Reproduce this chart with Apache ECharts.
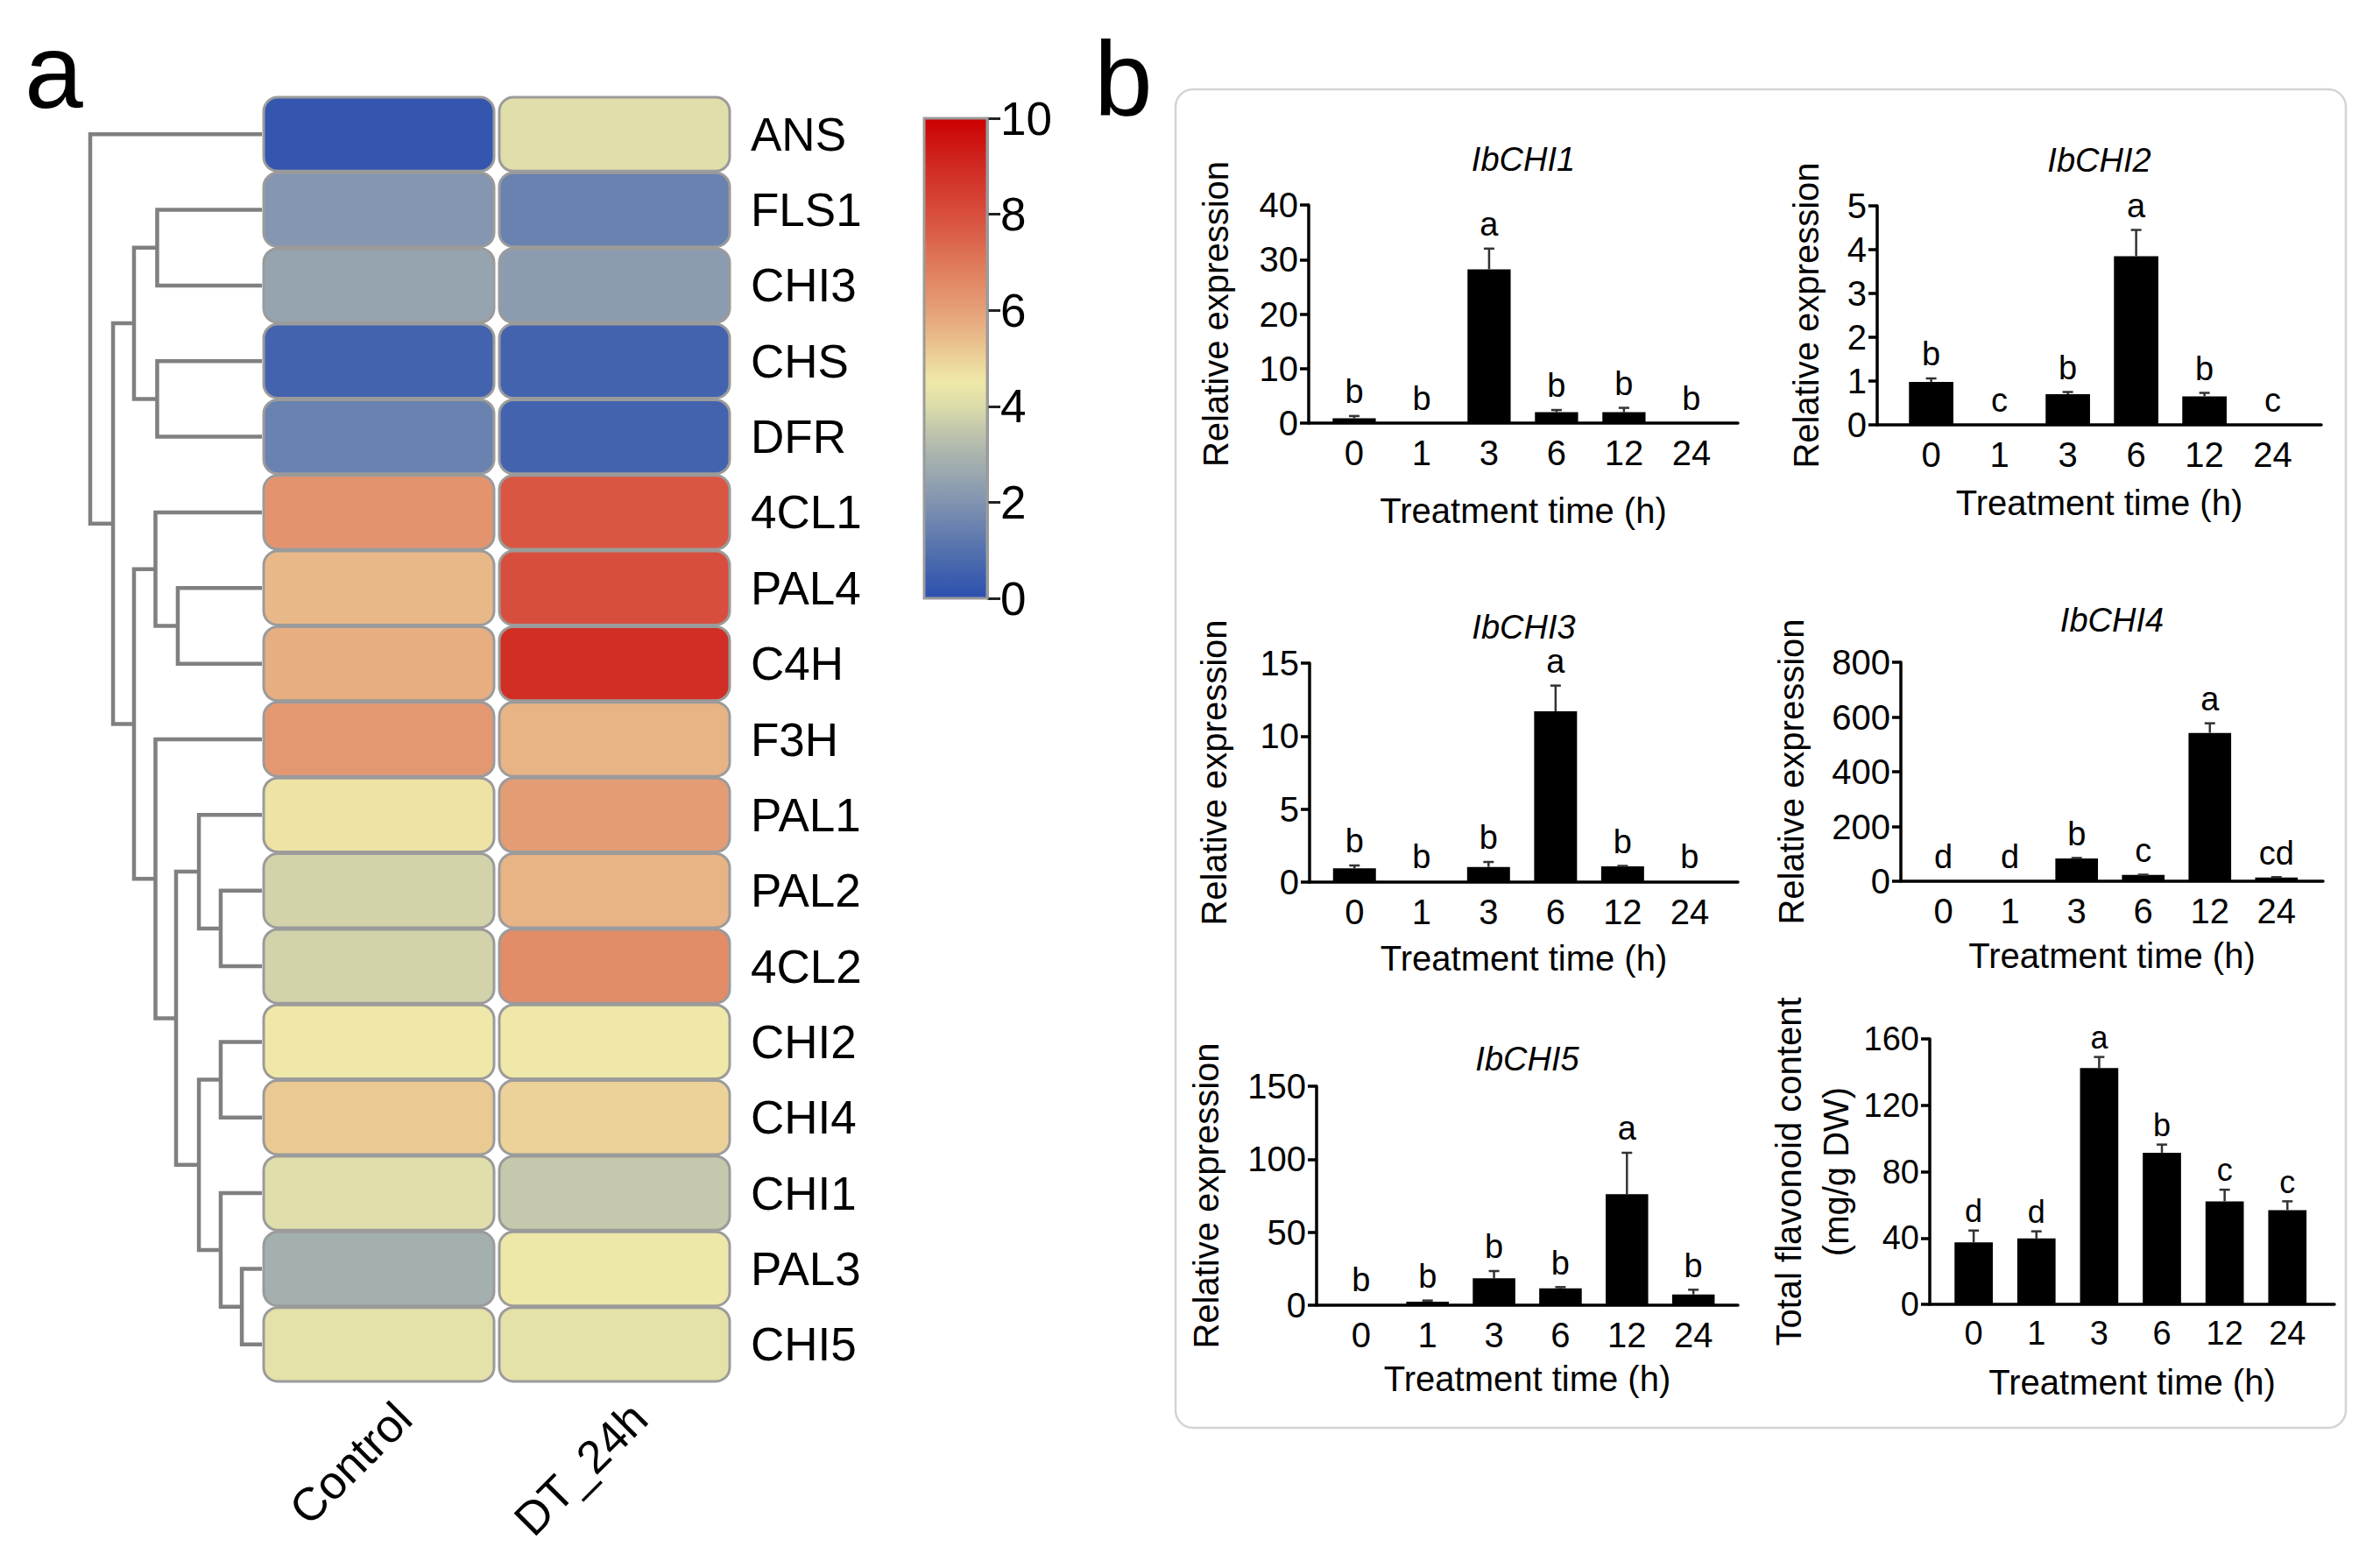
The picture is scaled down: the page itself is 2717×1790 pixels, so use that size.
<!DOCTYPE html>
<html>
<head>
<meta charset="utf-8">
<script src="https://cdn.jsdelivr.net/npm/echarts@6/dist/echarts.min.js"></script>
<style>
html,body{margin:0;padding:0;background:#fff;}
#c{width:2717px;height:1790px;}
</style>
</head>
<body>
<div id="c"></div>
<script>
// ---------------- DATA ----------------
const genes = ['ANS','FLS1','CHI3','CHS','DFR','4CL1','PAL4','C4H','F3H','PAL1','PAL2','4CL2','CHI2','CHI4','CHI1','PAL3','CHI5'];
const samples = ['Control','DT_24h'];
const controlValues = [0.2, 2.1, 2.5, 0.6, 1.5, 6.3, 5.5, 5.7, 6.2, 4.6, 3.8, 3.8, 4.5, 5.15, 4.1, 2.85, 4.2];
const dt24Values    = [4.1, 1.5, 2.25, 0.6, 0.6, 7.8, 8.0, 8.9, 5.6, 6.1, 5.6, 6.5, 4.5, 5.0, 3.55, 4.45, 4.2];
const colorMin = 0, colorMax = 10, colorStep = 2;
const heatColors = ['#2c4fae','#3f60ae','#5471ae','#6a82af','#8093b0','#96a4b0','#aab4ae','#c2c6ac','#dcdcaa','#efe8a8',
                    '#ecd198','#e9b888','#e5a078','#e28c68','#de7858','#db634b','#d84e3e','#d43c30','#d02a22','#ce1512','#cc0000'];
// hierarchical clustering of rows: [left child, right child, merge height]; nodes referenced as 'n<index>'
const linkage = [
  ['PAL3','CHI5',1.17],   // n0
  ['CHI1','n0',2.4],      // n1
  ['CHI2','CHI4',2.4],    // n2
  ['n2','n1',3.67],       // n3
  ['PAL2','4CL2',2.4],    // n4
  ['PAL1','n4',3.67],     // n5
  ['n5','n3',5.0],        // n6
  ['F3H','n6',6.2],       // n7
  ['PAL4','C4H',4.9],     // n8
  ['4CL1','n8',6.2],      // n9
  ['n9','n7',7.45],       // n10
  ['CHS','DFR',6.1],      // n11
  ['FLS1','CHI3',6.1],    // n12
  ['n12','n11',7.45],     // n13
  ['n13','n10',8.67],     // n14
  ['ANS','n14',10]        // n15
];
const dendroMax = 10;

const times = ['0','1','3','6','12','24'];
const chi1Mean = [0.9, 0.1, 28.2, 2.0, 2.0, 0.1];
const chi1Err  = [0.4, 0, 3.8, 0.4, 0.8, 0];
const chi1Sig  = ['b','b','a','b','b','b'];
const chi2Mean = [0.98, 0.01, 0.70, 3.85, 0.65, 0.01];
const chi2Err  = [0.08, 0, 0.05, 0.6, 0.08, 0];
const chi2Sig  = ['b','c','b','a','b','c'];
const chi3Mean = [0.94, 0.05, 1.04, 11.7, 1.08, 0.05];
const chi3Err  = [0.2, 0, 0.34, 1.76, 0.03, 0];
const chi3Sig  = ['b','b','b','a','b','b'];
const chi4Mean = [1, 1, 83, 23, 542, 14];
const chi4Err  = [0, 0, 2, 1, 35, 1];
const chi4Sig  = ['d','d','b','c','a','cd'];
const chi5Mean = [0.5, 2.4, 18.4, 11.6, 76, 7.4];
const chi5Err  = [0, 0.8, 5, 0.8, 28.4, 3.2];
const chi5Sig  = ['b','b','b','b','a','b'];
const flavMean = [37.3, 39.7, 142.4, 91.4, 62.1, 56.8];
const flavErr  = [7.2, 4.3, 6.7, 4.9, 7.0, 5.3];
const flavSig  = ['d','d','a','b','c','c'];

// ---------------- LAYOUT / STYLE ----------------
const FONT = '"Liberation Sans", Arial, Helvetica, sans-serif';
const heatBox = {left:298, top:110, width:538, height:1468};

const panels = [
  {title:'IbCHI1', mean:chi1Mean, err:chi1Err, sig:chi1Sig, yMax:40, yStep:10, yName:'Relative expression',
   box:{left:1494, top:234, width:490, height:249}, xMin:-0.675, xMax:5.69, yNameGap:79, xNameGap:80, titleY:180,
   barW:0.64, sigGap:16, sigFs:38, tickFs:40},
  {title:'IbCHI2', mean:chi2Mean, err:chi2Err, sig:chi2Sig, yMax:5, yStep:1, yName:'Relative expression',
   box:{left:2143, top:235, width:507, height:250}, xMin:-0.79, xMax:5.71, yNameGap:54, xNameGap:69, titleY:181,
   barW:0.65, sigGap:16, sigFs:38, tickFs:40},
  {title:'IbCHI3', mean:chi3Mean, err:chi3Err, sig:chi3Sig, yMax:15, yStep:5, yName:'Relative expression',
   box:{left:1495, top:757, width:489, height:250}, xMin:-0.67, xMax:5.72, yNameGap:82, xNameGap:67, titleY:714,
   barW:0.64, sigGap:16, sigFs:38, tickFs:40},
  {title:'IbCHI4', mean:chi4Mean, err:chi4Err, sig:chi4Sig, yMax:800, yStep:200, yName:'Relative expression',
   box:{left:2170, top:756, width:482, height:250}, xMin:-0.64, xMax:5.70, yNameGap:98, xNameGap:65, titleY:706,
   barW:0.64, sigGap:16, sigFs:38, tickFs:40},
  {title:'IbCHI5', mean:chi5Mean, err:chi5Err, sig:chi5Sig, yMax:150, yStep:50, yName:'Relative expression',
   box:{left:1503, top:1240, width:481, height:250}, xMin:-0.67, xMax:5.67, yNameGap:99, xNameGap:64, titleY:1207,
   barW:0.64, sigGap:16, sigFs:38, tickFs:40},
  {title:'', mean:flavMean, err:flavErr, sig:flavSig, yMax:160, yStep:40, yName:'Total flavonoid content\n(mg/g DW)',
   box:{left:2203, top:1186, width:462, height:303}, xMin:-0.70, xMax:5.75, yNameGap:80, xNameGap:69, titleY:0,
   barW:0.61, sigGap:11, sigFs:36, tickFs:38}
];

// ---------------- BUILD ----------------
const chart = echarts.init(document.getElementById('c'), null, {renderer:'svg', width:2717, height:1790});

// dendrogram geometry from linkage
const pos = {};
genes.forEach((g,i)=>{ pos[g] = {y:i, h:0}; });
const dendroData = [];
linkage.forEach((row,k)=>{
  const L = pos[row[0]], R = pos[row[1]];
  dendroData.push([L.h, L.y, R.h, R.y, row[2]]);
  pos['n'+k] = {y:(L.y+R.y)/2, h:row[2]};
});

const heatData = [];
genes.forEach((g,i)=>{
  heatData.push([0, i, controlValues[i]]);
  heatData.push([1, i, dt24Values[i]]);
});

const grids = [], xAxes = [], yAxes = [], series = [], graphics = [];

// 0: dendrogram
grids.push({left:103, top:heatBox.top, width:196, height:heatBox.height});
xAxes.push({gridIndex:0, type:'value', min:0, max:dendroMax, inverse:true, show:false});
yAxes.push({gridIndex:0, type:'value', min:-0.5, max:genes.length-0.5, inverse:true, show:false});
series.push({
  type:'custom', xAxisIndex:0, yAxisIndex:0, silent:true, clip:false,
  data: dendroData,
  renderItem:(p, api)=>{
    const hL=api.value(0), yL=api.value(1), hR=api.value(2), yR=api.value(3), h=api.value(4);
    return {type:'polyline', shape:{points:[api.coord([hL,yL]), api.coord([h,yL]), api.coord([h,yR]), api.coord([hR,yR])]},
            style:{stroke:'#808080', lineWidth:4.5, fill:null}};
  }
});

// 1: heatmap
grids.push({left:heatBox.left, top:heatBox.top, width:heatBox.width, height:heatBox.height});
xAxes.push({gridIndex:1, type:'category', data:samples, axisLine:{show:false}, axisTick:{show:false}, axisLabel:{show:false}});
yAxes.push({gridIndex:1, type:'category', data:genes, inverse:true, position:'right',
  axisLine:{show:false}, axisTick:{show:false},
  axisLabel:{fontSize:53, color:'#000', fontFamily:FONT, margin:21}});
series.push({
  type:'custom', xAxisIndex:1, yAxisIndex:1, silent:true,
  encode:{x:0, y:1},
  data: heatData,
  renderItem:(p, api)=>{
    const c = api.coord([api.value(0), api.value(1)]);
    const s = api.size([1,1]);
    const w = s[0]-6, h = s[1]-2;
    return {type:'rect', shape:{x:c[0]-w/2, y:c[1]-h/2, width:w, height:h, r:16},
            style:{fill:api.visual('color'), stroke:'#9b9b9b', lineWidth:3}};
  }
});

// 2: heatmap column labels (rotated)
grids.push({left:heatBox.left+28, top:heatBox.top, width:heatBox.width, height:heatBox.height});
xAxes.push({gridIndex:2, type:'category', data:samples, axisLine:{show:false}, axisTick:{show:false},
  axisLabel:{rotate:45, fontSize:53, color:'#000', fontFamily:FONT, margin:32}});
yAxes.push({gridIndex:2, type:'value', min:0, max:1, show:false});

// 3: colorbar
grids.push({left:1055, top:135, width:72, height:548});
xAxes.push({gridIndex:3, type:'value', min:0, max:1, show:false});
yAxes.push({gridIndex:3, type:'value', min:colorMin, max:colorMax, interval:colorStep, position:'right',
  axisLine:{show:true, onZero:false, lineStyle:{color:'#9b9b9b', width:3}}, splitLine:{show:false},
  axisTick:{show:true, inside:false, length:15, lineStyle:{color:'#222', width:3}},
  axisLabel:{fontSize:53, color:'#000', fontFamily:FONT, margin:15}});
series.push({
  type:'custom', xAxisIndex:3, yAxisIndex:3, silent:true, clip:false,
  encode:{x:0, y:1},
  data:[[0, colorMin, colorMax]],
  renderItem:(p, api)=>{
    const a = api.coord([0, api.value(2)]), b = api.coord([1, api.value(1)]);
    const stops = heatColors.map((c,i)=>({offset:i/(heatColors.length-1), color:c}));
    return {type:'rect', shape:{x:a[0], y:a[1], width:b[0]-a[0], height:b[1]-a[1]},
            style:{fill:new echarts.graphic.LinearGradient(0,1,0,0,stops), stroke:'#9b9b9b', lineWidth:3}};
  }
});

// 4..9: bar panels
panels.forEach((P, k)=>{
  const gi = 4+k;
  grids.push(Object.assign({}, P.box));
  xAxes.push({gridIndex:gi, type:'value', min:P.xMin, max:P.xMax,
    axisLine:{show:true, onZero:false, lineStyle:{color:'#000', width:3.5}},
    axisTick:{show:false}, splitLine:{show:false},
    axisLabel:{customValues:[0,1,2,3,4,5], formatter:v=>times[Math.round(v)] || '', fontSize:P.tickFs, color:'#000', fontFamily:FONT, margin:14},
    name:'Treatment time (h)', nameLocation:'middle', nameGap:P.xNameGap,
    nameTextStyle:{fontSize:40, color:'#000', fontFamily:FONT}});
  yAxes.push({gridIndex:gi, type:'value', min:0, max:P.yMax, interval:P.yStep,
    axisLine:{show:true, onZero:false, lineStyle:{color:'#000', width:3.5}},
    axisTick:{show:true, inside:false, length:10, lineStyle:{color:'#000', width:3.5}},
    splitLine:{show:false},
    axisLabel:{fontSize:P.tickFs, color:'#000', fontFamily:FONT, margin:12},
    name:P.yName, nameLocation:'middle', nameGap:P.yNameGap,
    nameTextStyle:{fontSize:40, color:'#000', fontFamily:FONT, lineHeight:54}});
  series.push({
    type:'custom', xAxisIndex:gi, yAxisIndex:gi, silent:true, clip:false,
    encode:{x:0, y:1},
    data: P.mean.map((m,i)=>[i, m, P.err[i]]),
    renderItem:(params, api)=>{
      const i = api.value(0), m = api.value(1), e = api.value(2);
      const base = api.coord([i, 0]), top = api.coord([i, m]), et = api.coord([i, m+e]);
      const w = api.size([P.barW, 0])[0];
      const ch = [{type:'rect', shape:{x:base[0]-w/2, y:top[1], width:w, height:base[1]-top[1]}, style:{fill:'#000'}}];
      if (e > 0) {
        ch.push({type:'line', shape:{x1:et[0], y1:top[1], x2:et[0], y2:et[1]}, style:{stroke:'#333', lineWidth:2.5}});
        ch.push({type:'line', shape:{x1:et[0]-6, y1:et[1], x2:et[0]+6, y2:et[1]}, style:{stroke:'#333', lineWidth:2.5}});
      }
      ch.push({type:'text', x:et[0], y:et[1]-P.sigGap-0.31*P.sigFs,
        style:{text:P.sig[params.dataIndex], fill:'#000', font:P.sigFs+'px '+FONT, align:'center', verticalAlign:'middle'}});
      return {type:'group', children:ch};
    }
  });
  if (P.title) {
    graphics.push({type:'text', x:P.box.left+P.box.width/2, y:P.titleY+2,
      style:{text:P.title, font:'italic 38px '+FONT, fill:'#000', align:'center', verticalAlign:'middle'}});
  }
});

// panel letters and frame
graphics.push({type:'rect', shape:{x:1342, y:102, width:1336, height:1528, r:20},
  style:{fill:'none', stroke:'#d4d4d4', lineWidth:2.5}, z:-10});
graphics.push({type:'text', x:28, y:81, style:{text:'a', font:'120px '+FONT, fill:'#000', verticalAlign:'middle'}});
graphics.push({type:'text', x:1249, y:89, style:{text:'b', font:'120px '+FONT, fill:'#000', verticalAlign:'middle'}});

chart.setOption({
  animation:false,
  backgroundColor:'#ffffff',
  textStyle:{fontFamily:FONT},
  grid:grids,
  xAxis:xAxes,
  yAxis:yAxes,
  visualMap:{type:'continuous', show:false, min:colorMin, max:colorMax, dimension:2, seriesIndex:1,
    inRange:{color:heatColors}},
  graphic:graphics,
  series:series
});
</script>
</body>
</html>
